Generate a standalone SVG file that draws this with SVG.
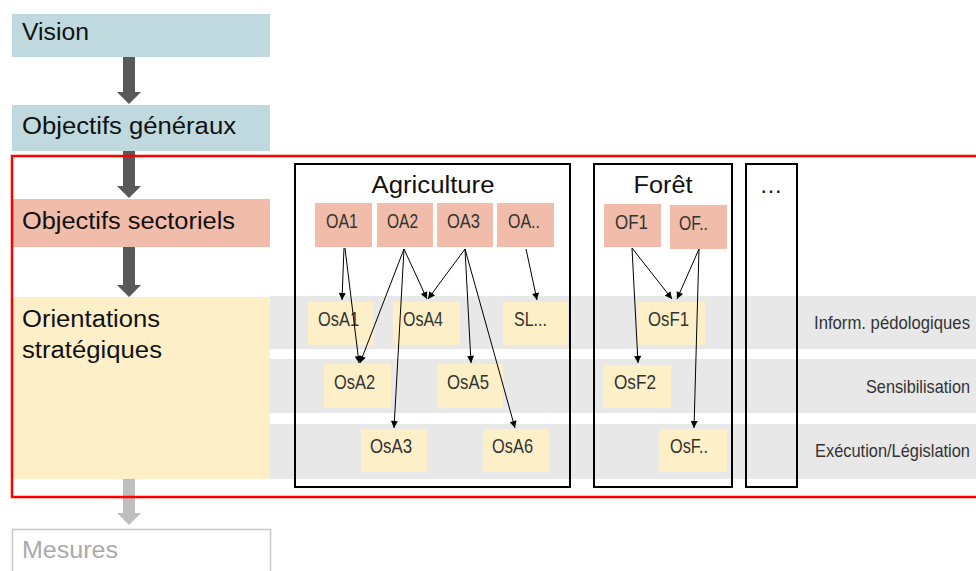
<svg xmlns="http://www.w3.org/2000/svg" width="976" height="571" viewBox="0 0 976 571">
  <style>
    text { font-family: "Liberation Sans", Arial, sans-serif; }
    .lvl { font-size: 23px; fill: #111; }
    .blue { fill: #bfd9de; }
    .salmon { fill: #f1bcaa; }
    .cream { fill: #fdefc8; }
    .band { fill: #e8e8e8; }
    .sector { fill: none; stroke: #000; stroke-width: 2; }
    .head { font-size: 23px; fill: #111; text-anchor: middle; }
    .node { font-size: 21px; fill: #333; }
    .side { font-size: 19px; fill: #333; }
    .flow { fill: #595959; }
    .link { stroke: #000; stroke-width: 1; fill: none; marker-end: url(#tip); }
  </style>
  <defs>
    <marker id="tip" viewBox="0 0 10 10" refX="10" refY="5" markerWidth="8" markerHeight="7" markerUnits="userSpaceOnUse" orient="auto">
      <path d="M0,0 L10,5 L0,10 z" fill="#000"/>
    </marker>
  </defs>

  <rect width="976" height="571" fill="#fff"/>

  <!-- horizontal theme bands -->
  <g id="bands">
    <rect class="band" x="270" y="296" width="706" height="53"/>
    <rect class="band" x="270" y="359" width="706" height="54"/>
    <rect class="band" x="270" y="424" width="706" height="55"/>
  </g>

  <!-- hierarchy levels, left column -->
  <g id="vision">
    <rect class="blue" x="12" y="14" width="258" height="43"/>
    <text class="lvl" x="22" y="40" textLength="67" lengthAdjust="spacingAndGlyphs">Vision</text>
  </g>
  <g id="objectifs-generaux">
    <rect class="blue" x="12" y="105" width="258" height="46"/>
    <text class="lvl" x="22" y="134" textLength="214" lengthAdjust="spacingAndGlyphs">Objectifs généraux</text>
  </g>
  <g id="objectifs-sectoriels">
    <rect class="salmon" x="12" y="199" width="258" height="48"/>
    <text class="lvl" x="22" y="229" textLength="213" lengthAdjust="spacingAndGlyphs">Objectifs sectoriels</text>
  </g>
  <g id="orientations">
    <rect class="cream" x="12" y="297" width="258" height="182"/>
    <text class="lvl" x="22" y="327" textLength="138" lengthAdjust="spacingAndGlyphs">Orientations</text>
    <text class="lvl" x="22" y="358" textLength="140" lengthAdjust="spacingAndGlyphs">stratégiques</text>
  </g>
  <g id="mesures">
    <rect x="12.5" y="529.5" width="258" height="50" fill="#fff" stroke="#c8c8c8" stroke-width="1.5"/>
    <text class="lvl" x="22" y="558" style="fill:#aaa" textLength="96" lengthAdjust="spacingAndGlyphs">Mesures</text>
  </g>

  <!-- block arrows between levels -->
  <g id="level-arrows">
    <path class="flow" d="M123,57 H135 V92 H141 L129,104 L117,92 H123 Z"/>
    <path class="flow" d="M123,151 H135 V186 H141 L129,198 L117,186 H123 Z"/>
    <path class="flow" d="M123,247 H135 V285 H141 L129,297 L117,285 H123 Z"/>
    <path d="M123,479 H135 V513 H141 L129,525 L117,513 H123 Z" fill="#bfbfbf"/>
  </g>

  <!-- sector frames -->
  <g id="agriculture">
    <rect class="sector" x="295" y="164" width="275" height="323"/>
    <text class="head" x="433" y="193" textLength="123" lengthAdjust="spacingAndGlyphs">Agriculture</text>
  </g>
  <g id="foret">
    <rect class="sector" x="594" y="164" width="138" height="323"/>
    <text class="head" x="663" y="193" textLength="59" lengthAdjust="spacingAndGlyphs">Forêt</text>
  </g>
  <g id="autres">
    <rect class="sector" x="746" y="164" width="51" height="323"/>
    <text class="head" x="771" y="193">…</text>
  </g>

  <!-- sector objectives -->
  <g id="OA1"><rect class="salmon" x="315" y="203" width="57" height="44"/><text class="node" x="326" y="228" textLength="32" lengthAdjust="spacingAndGlyphs">OA1</text></g>
  <g id="OA2"><rect class="salmon" x="377" y="203" width="56" height="44"/><text class="node" x="387" y="228" textLength="31" lengthAdjust="spacingAndGlyphs">OA2</text></g>
  <g id="OA3"><rect class="salmon" x="437" y="203" width="56" height="44"/><text class="node" x="447" y="228" textLength="33" lengthAdjust="spacingAndGlyphs">OA3</text></g>
  <g id="OA-etc"><rect class="salmon" x="497" y="203" width="57" height="44"/><text class="node" x="508" y="228" textLength="32" lengthAdjust="spacingAndGlyphs">OA..</text></g>
  <g id="OF1"><rect class="salmon" x="604" y="204" width="57" height="43"/><text class="node" x="615" y="229" textLength="33" lengthAdjust="spacingAndGlyphs">OF1</text></g>
  <g id="OF-etc"><rect class="salmon" x="670" y="205" width="57" height="44"/><text class="node" x="679" y="230" textLength="29" lengthAdjust="spacingAndGlyphs">OF..</text></g>

  <!-- strategic orientations -->
  <g id="OsA1"><rect class="cream" x="308" y="302" width="66" height="43"/><text class="node" x="318" y="326" textLength="41" lengthAdjust="spacingAndGlyphs">OsA1</text></g>
  <g id="OsA4"><rect class="cream" x="393" y="302" width="67" height="43"/><text class="node" x="403" y="326" textLength="40" lengthAdjust="spacingAndGlyphs">OsA4</text></g>
  <g id="SL"><rect class="cream" x="503" y="302" width="65" height="43"/><text class="node" x="514" y="326" textLength="33" lengthAdjust="spacingAndGlyphs">SL...</text></g>
  <g id="OsA2"><rect class="cream" x="324" y="364" width="67" height="44"/><text class="node" x="334" y="389" textLength="41" lengthAdjust="spacingAndGlyphs">OsA2</text></g>
  <g id="OsA5"><rect class="cream" x="437" y="364" width="66" height="44"/><text class="node" x="447" y="389" textLength="42" lengthAdjust="spacingAndGlyphs">OsA5</text></g>
  <g id="OsA3"><rect class="cream" x="361" y="429" width="66" height="43"/><text class="node" x="370" y="453" textLength="42" lengthAdjust="spacingAndGlyphs">OsA3</text></g>
  <g id="OsA6"><rect class="cream" x="483" y="429" width="66" height="43"/><text class="node" x="492" y="453" textLength="41" lengthAdjust="spacingAndGlyphs">OsA6</text></g>
  <g id="OsF1"><rect class="cream" x="637" y="302" width="68" height="43"/><text class="node" x="648" y="326" textLength="41" lengthAdjust="spacingAndGlyphs">OsF1</text></g>
  <g id="OsF2"><rect class="cream" x="603" y="365" width="68" height="43"/><text class="node" x="614" y="389" textLength="42" lengthAdjust="spacingAndGlyphs">OsF2</text></g>
  <g id="OsF-etc"><rect class="cream" x="659" y="429" width="68" height="43"/><text class="node" x="670" y="453" textLength="38" lengthAdjust="spacingAndGlyphs">OsF..</text></g>

  <!-- band labels -->
  <g id="band-labels">
    <text class="side" x="814" y="329" textLength="156" lengthAdjust="spacingAndGlyphs">Inform. pédologiques</text>
    <text class="side" x="866" y="393" textLength="104" lengthAdjust="spacingAndGlyphs">Sensibilisation</text>
    <text class="side" x="815" y="457" textLength="155" lengthAdjust="spacingAndGlyphs">Exécution/Législation</text>
  </g>

  <!-- objective to orientation links -->
  <g id="connectors">
    <line class="link" x1="344" y1="248" x2="342" y2="300"/>
    <line class="link" x1="345" y1="248" x2="359" y2="363"/>
    <line class="link" x1="404" y1="249" x2="427" y2="299"/>
    <line class="link" x1="404" y1="249" x2="360" y2="363"/>
    <line class="link" x1="404" y1="249" x2="394" y2="428"/>
    <line class="link" x1="465" y1="249" x2="428" y2="299"/>
    <line class="link" x1="465" y1="249" x2="471" y2="363"/>
    <line class="link" x1="465" y1="249" x2="515" y2="428"/>
    <line class="link" x1="526" y1="249" x2="537" y2="300"/>
    <line class="link" x1="632" y1="248" x2="672" y2="299"/>
    <line class="link" x1="632" y1="248" x2="638" y2="363"/>
    <line class="link" x1="699" y1="249" x2="677" y2="299"/>
    <line class="link" x1="699" y1="249" x2="694" y2="428"/>
  </g>

  <!-- scope frame -->
  <rect id="scope" x="12" y="156" width="970" height="341" fill="none" stroke="#ff0000" stroke-width="2.5"/>
</svg>
